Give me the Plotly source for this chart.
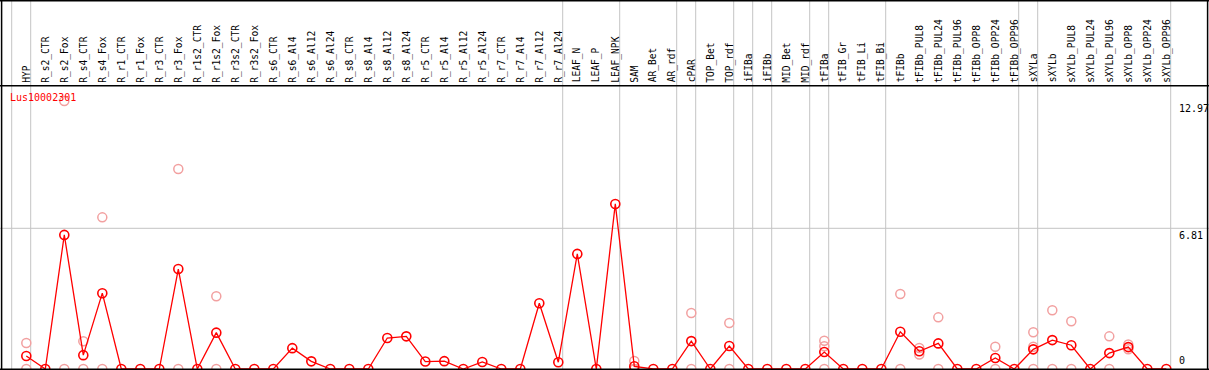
import plotly.graph_objects as go

W, H = 1209, 370

categories = ["HYP", "R_s2_CTR", "R_s2_Fox", "R_s4_CTR", "R_s4_Fox", "R_r1_CTR", "R_r1_Fox",
              "R_r3_CTR", "R_r3_Fox", "R_r1s2_CTR", "R_r1s2_Fox", "R_r3s2_CTR", "R_r3s2_Fox",
              "R_s6_CTR", "R_s6_Al4", "R_s6_Al12", "R_s6_Al24", "R_s8_CTR", "R_s8_Al4",
              "R_s8_Al12", "R_s8_Al24", "R_r5_CTR", "R_r5_Al4", "R_r5_Al12", "R_r5_Al24",
              "R_r7_CTR", "R_r7_Al4", "R_r7_Al12", "R_r7_Al24", "LEAF_N", "LEAF_P", "LEAF_NPK",
              "SAM", "AR_Bet", "AR_rdf", "cPAR", "TOP_Bet", "TOP_rdf", "iFIBa", "iFIBb",
              "MID_Bet", "MID_rdf", "tFIBa", "tFIB_Gr", "tFIB_Li", "tFIB_Bi", "tFIBb",
              "tFIBb_PUL8", "tFIBb_PUL24", "tFIBb_PUL96", "tFIBb_OPP8", "tFIBb_OPP24",
              "tFIBb_OPP96", "sXYLa", "sXYLb", "sXYLb_PUL8", "sXYLb_PUL24", "sXYLb_PUL96",
              "sXYLb_OPP8", "sXYLb_OPP24", "sXYLb_OPP96"]

mean_values = [0.63, 0, 6.49, 0.67, 3.67, 0, 0, 0, 4.84, 0, 1.76, 0, 0, 0, 1.01, 0.37, 0, 0, 0,
               1.50, 1.58, 0.36, 0.38, 0, 0.34, 0, 0, 3.18, 0.33, 5.57, 0, 7.99, 0.13, 0, 0,
               1.35, 0, 1.11, 0, 0, 0, 0, 0.82, 0, 0, 0, 1.80, 0.86, 1.24, 0, 0, 0.53, 0,
               0.95, 1.40, 1.15, 0, 0.77, 1.06, 0, 0]

N = None
rep1 = [1.26, N, 12.97, 1.34, 7.34, N, N, N, 9.68, N, 3.52, N, N, N, N, N, N, N, N, N, N, N, N,
        N, N, N, N, N, N, N, N, N, 0.39, N, N, 2.71, N, 2.23, N, N, N, N, 1.37, N, N, N, 3.63,
        1.02, 2.50, N, N, 1.08, N, 1.78, 2.84, 2.31, N, 1.58, 1.19, N, N]
rep2 = [0, N, 0, 0, 0, N, N, N, 0, N, 0, N, N, N, N, N, N, N, N, N, N, N, N,
        N, N, N, N, N, N, N, N, N, 0, N, N, 0, N, 0, N, N, N, N, 1.10, N, N, N, 0,
        0.70, 0, N, N, 0, N, 1.08, 0, 0, N, 0, 0.95, N, N]
rep3 = [N] * 32 + [0] + [N] * 9 + [0] + [N] * 10 + [0] + [N] * 7

group_ends = [-1, 0, 28, 31, 34, 35, 37, 38, 39, 41, 42, 45, 52, 53, 60]
y_labels = [12.97, 6.81, 0]
gene = "Lus10002301"

x_idx = list(range(len(categories)))

# geometry (pixels)
x0_px, step_px = 26.3, 19.0
plot_top_px, plot_bot_px = 85.7, 369.0
px_per_unit = 20.66
xr0 = -x0_px / step_px
xr1 = xr0 + W / step_px
ytop = (plot_bot_px - plot_top_px) / px_per_unit

def py(px):
    return (H - px) / H

fig = go.Figure()

fade = "#f2a0a0"
for reps in (rep1, rep2, rep3):
    xs = [i for i, v in zip(x_idx, reps) if v is not None]
    ys = [v for v in reps if v is not None]
    fig.add_trace(go.Scatter(x=xs, y=ys, mode="markers",
                             marker=dict(symbol="circle-open", size=9, color=fade,
                                         line=dict(width=1.5, color=fade)),
                             hoverinfo="skip", showlegend=False))

fig.add_trace(go.Scatter(x=x_idx, y=mean_values, mode="lines+markers",
                         line=dict(color="#ff0000", width=1.3),
                         marker=dict(symbol="circle-open", size=9, color="#ff0000",
                                     line=dict(width=1.6, color="#ff0000")),
                         showlegend=False))

shapes = []
for g in group_ends:
    xv = g + 4.4 / step_px
    shapes.append(dict(type="line", xref="x", yref="paper", x0=xv, x1=xv, y0=0, y1=1,
                       line=dict(color="#c4c4c4", width=1), layer="below"))
shapes.append(dict(type="line", xref="paper", yref="y", x0=0, x1=1, y0=6.81, y1=6.81,
                   line=dict(color="#c4c4c4", width=1), layer="below"))
blk = dict(color="#000000", width=1.5)
shapes += [
    dict(type="line", xref="paper", yref="paper", x0=0, x1=1, y0=py(0.7), y1=py(0.7), line=blk),
    dict(type="line", xref="paper", yref="paper", x0=0, x1=1, y0=py(plot_top_px), y1=py(plot_top_px), line=blk),
    dict(type="line", xref="paper", yref="paper", x0=0, x1=1, y0=py(369.2), y1=py(369.2), line=blk),
    dict(type="line", xref="paper", yref="paper", x0=1.6 / W, x1=1.6 / W, y0=0, y1=1, line=blk),
    dict(type="line", xref="paper", yref="paper", x0=1207.6 / W, x1=1207.6 / W, y0=0, y1=1, line=blk),
]

mono = "DejaVu Sans Mono"
ann = []
for i, c in zip(x_idx, categories):
    ann.append(dict(x=i, xref="x", y=py(83.5), yref="paper", text=c, textangle=-90,
                    showarrow=False, xanchor="center", yanchor="bottom", borderpad=0,
                    font=dict(family=mono, size=9.6, color="#000000")))
ann.append(dict(x=9 / W, xref="paper", y=py(97.5), yref="paper", text=gene, showarrow=False,
                xanchor="left", yanchor="middle", borderpad=0,
                font=dict(family=mono, size=10, color="#ff0000")))
for v in y_labels:
    if v == 0:
        ann.append(dict(x=1177.5 / W, xref="paper", y=v, yref="y", text=str(v), showarrow=False,
                        xanchor="left", yanchor="bottom", yshift=2, borderpad=0,
                        font=dict(family=mono, size=10, color="#000000")))
    else:
        ann.append(dict(x=1177.5 / W, xref="paper", y=v, yref="y", text=f"{v:.2f}", showarrow=False,
                        xanchor="left", yanchor="top", yshift=-1, borderpad=0,
                        font=dict(family=mono, size=10, color="#000000")))

fig.update_layout(
    width=W, height=H, margin=dict(l=0, r=0, t=0, b=0),
    paper_bgcolor="white", plot_bgcolor="white",
    xaxis=dict(range=[xr0, xr1], domain=[0, 1], showgrid=False, zeroline=False,
               showticklabels=False, ticks="", fixedrange=True),
    yaxis=dict(range=[0, ytop], domain=[py(plot_bot_px), py(plot_top_px)], showgrid=False,
               zeroline=False, showticklabels=False, ticks="", fixedrange=True),
    shapes=shapes, annotations=ann, showlegend=False,
)

fig.write_html("out.html", config={"displayModeBar": False},
               post_script="document.body.style.margin='0';document.body.style.overflow='hidden';")
